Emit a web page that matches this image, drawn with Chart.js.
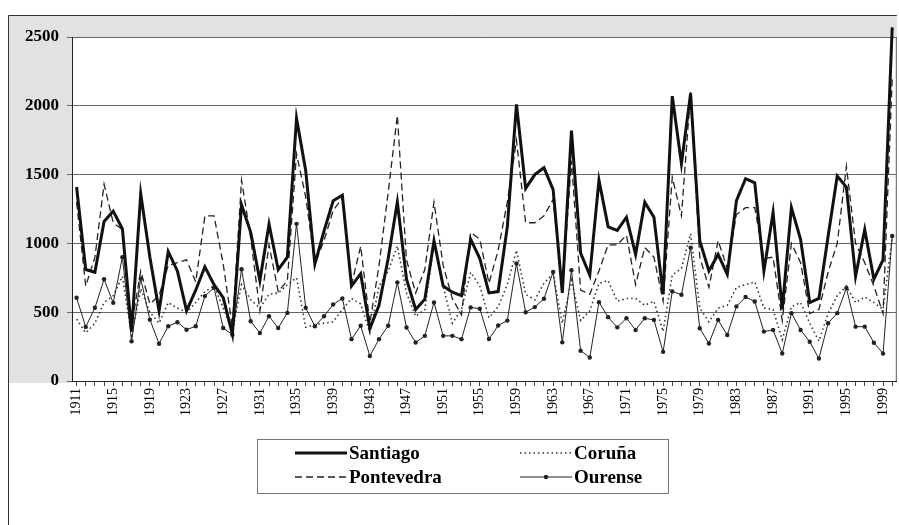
<!DOCTYPE html>
<html>
<head>
<meta charset="utf-8">
<script src="https://cdn.jsdelivr.net/npm/chart.js@4.4.1/dist/chart.umd.min.js"></script>
<style>
  body { margin: 0; background: #fff; }
  #caja { width: 899px; height: 525px; }
</style>
</head>
<body>
<div id="caja"><canvas id="grafico" width="899" height="525"></canvas></div>
<script>
// anos 1911-2000
const anos = [];
for (let a = 1911; a <= 2000; a++) anos.push(String(a));

const santiago = [
  1410, 810, 790, 1160, 1235, 1105, 360, 1360, 900, 510,
  940, 800, 510, 660, 830, 700, 605, 340, 1280, 1080,
  730, 1140, 810, 900, 1910, 1530, 850, 1090, 1310, 1350,
  690, 780, 380, 550, 890, 1300, 740, 520, 595, 1020,
  690, 645, 620, 1030, 890, 640, 650, 1120, 2010, 1400,
  1500, 1550, 1390, 640, 1820, 930, 770, 1460, 1120, 1095,
  1190, 920, 1300, 1190, 630, 2070, 1580, 2090, 1020, 800,
  920, 775, 1310, 1470, 1440, 800, 1225, 520, 1260, 1030,
  570, 600, 1050, 1490, 1410, 760, 1100, 740, 880, 2570
];

const pontevedra = [
  1300, 690, 900, 1430, 1150, 1100, 400, 800, 560, 620,
  840, 860, 880, 720, 1200, 1200, 850, 390, 1460, 1040,
  510, 990, 650, 730, 1650, 1340, 850, 1020, 1240, 1330,
  700, 980, 420, 840, 1370, 1930, 880, 640, 810, 1300,
  840, 600, 480, 1080, 1030, 710, 950, 1300, 1750, 1150,
  1150, 1200, 1320, 660, 1600, 660, 630, 800, 990, 990,
  1060, 700, 970, 900, 580, 1480, 1200, 2100, 900, 680,
  1020, 820, 1210, 1260, 1260, 890, 900, 440, 1000, 860,
  490, 520, 790, 1000, 1560, 1000, 860, 690, 490, 2200
];

const coruna = [
  450, 350, 420, 570, 620, 760, 330, 670, 500, 420,
  570, 530, 500, 570, 650, 690, 530, 360, 700, 590,
  530, 630, 640, 700, 750, 390, 410, 420, 430, 520,
  600, 560, 350, 690, 800, 980, 640, 470, 520, 1000,
  690, 420, 520, 790, 690, 460, 540, 700, 950, 630,
  590, 710, 780, 420, 730, 440, 510, 710, 730, 580,
  600, 600, 550, 580, 360, 770, 820, 1070, 530, 430,
  530, 550, 680, 700, 720, 530, 520, 300, 540, 570,
  420, 290, 490, 620, 690, 570, 610, 570, 520, 1050
];

const ourense = [
  605, 393, 532, 739, 568, 900, 288, 744, 446, 271,
  398, 427, 373, 398, 617, 678, 385, 337, 812, 434,
  349, 471, 385, 495, 1142, 532, 398, 471, 556, 600,
  304, 401, 182, 304, 401, 717, 389, 280, 328, 571,
  328, 328, 304, 535, 525, 305, 403, 439, 854, 500,
  537, 598, 793, 281, 805, 220, 171, 573, 464, 390,
  456, 371, 456, 444, 212, 651, 627, 969, 383, 273,
  444, 334, 542, 610, 578, 359, 371, 200, 493, 371,
  285, 163, 420, 493, 676, 395, 395, 278, 200, 1054
];

const series = [
  { nome: "Santiago", dados: santiago, cor: "#111", largura: 3, traco: [], ponto: 0 },
  { nome: "Pontevedra", dados: pontevedra, cor: "#222", largura: 1.3, traco: [7, 4], ponto: 0 },
  { nome: "Coruña", dados: coruna, cor: "#333", largura: 1.6, traco: [1.5, 3], ponto: 0 },
  { nome: "Ourense", dados: ourense, cor: "#222", largura: 1, traco: [], ponto: 2.2 }
];

const serif = "'Liberation Serif', 'Times New Roman', serif";

// fondo gris escaneado y marco
const fondo = {
  id: "fondo",
  beforeDraw(chart) {
    const ctx = chart.ctx;
    const area = chart.chartArea;
    ctx.save();
    ctx.fillStyle = "#fff";
    ctx.fillRect(0, 0, chart.width, chart.height);
    ctx.fillStyle = "#e2e2e2";
    ctx.fillRect(8, 15, area.right - 8, area.top - 15);
    ctx.fillRect(8, 15, area.left - 8, area.bottom - 15 + 2);
    ctx.strokeStyle = "#333";
    ctx.lineWidth = 1;
    ctx.beginPath();
    ctx.moveTo(8.5, 525);
    ctx.lineTo(8.5, 15.5);
    ctx.lineTo(area.right, 15.5);
    ctx.stroke();
    ctx.strokeStyle = "#555";
    ctx.beginPath();
    ctx.moveTo(area.right - 0.5, area.top);
    ctx.lineTo(area.right - 0.5, area.bottom);
    ctx.stroke();
    ctx.restore();
  }
};

// leyenda en dos columnas dentro de un recuadro
const leyenda = {
  id: "leyenda",
  afterDraw(chart) {
    const ctx = chart.ctx;
    ctx.save();
    ctx.strokeStyle = "#777";
    ctx.lineWidth = 1;
    ctx.strokeRect(257.5, 439.5, 411, 54);
    const pos = [
      { x: 295, y: 453 },
      { x: 295, y: 477 },
      { x: 520, y: 453 },
      { x: 520, y: 477 }
    ];
    series.forEach((s, i) => {
      const p = pos[i];
      ctx.strokeStyle = s.cor;
      ctx.lineWidth = s.largura;
      ctx.setLineDash(s.traco);
      ctx.beginPath();
      ctx.moveTo(p.x, p.y);
      ctx.lineTo(p.x + 52, p.y);
      ctx.stroke();
      ctx.setLineDash([]);
      if (s.ponto) {
        ctx.fillStyle = s.cor;
        ctx.beginPath();
        ctx.arc(p.x + 26, p.y, s.ponto, 0, Math.PI * 2);
        ctx.fill();
      }
      ctx.fillStyle = "#000";
      ctx.font = "bold 19px " + serif;
      ctx.textBaseline = "middle";
      ctx.fillText(s.nome, p.x + 54, p.y + 1);
    });
    ctx.restore();
  }
};

new Chart(document.getElementById("grafico"), {
  type: "line",
  data: {
    labels: anos,
    datasets: series.map((s) => ({
      label: s.nome,
      data: s.dados,
      borderColor: s.cor,
      backgroundColor: s.cor,
      borderWidth: s.largura,
      borderDash: s.traco,
      pointRadius: s.ponto,
      pointHoverRadius: s.ponto,
      pointBorderWidth: 0,
      tension: 0,
      fill: false,
      clip: false
    }))
  },
  options: {
    responsive: false,
    animation: false,
    layout: { padding: { top: 37, left: 0, right: 2, bottom: 100 } },
    plugins: {
      legend: { display: false },
      tooltip: { enabled: false }
    },
    scales: {
      x: {
        offset: true,
        afterFit(scale) {
          scale.height = 44;
          scale.paddingLeft = 0;
          scale.paddingRight = 0;
        },
        grid: {
          drawOnChartArea: false,
          drawTicks: true,
          tickLength: 5,
          color: "#444"
        },
        border: { color: "#222", width: 1 },
        ticks: {
          autoSkip: false,
          minRotation: 90,
          maxRotation: 90,
          padding: 2,
          color: "#000",
          font: { family: serif, size: 14 },
          callback: (v, i) => (i % 4 === 0 ? anos[i] : "")
        }
      },
      y: {
        min: 0,
        max: 2500,
        afterFit(scale) { scale.width = 72; },
        grid: {
          color: "#666",
          lineWidth: 1,
          tickLength: 5
        },
        border: { color: "#222", width: 1 },
        ticks: {
          stepSize: 500,
          padding: 8,
          color: "#000",
          font: { family: serif, size: 17, weight: "bold" },
          callback: (v) => String(v)
        }
      }
    }
  },
  plugins: [fondo, leyenda]
});
</script>
</body>
</html>
